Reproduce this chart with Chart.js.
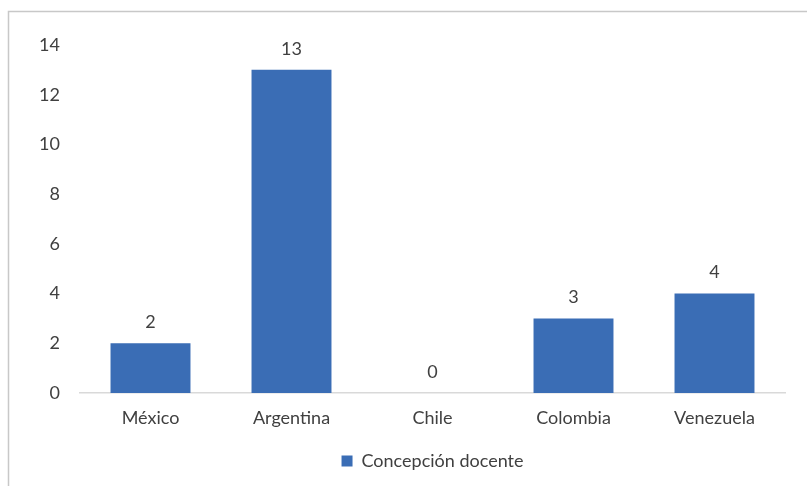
<!DOCTYPE html>
<html lang="es">
<head>
    <meta charset="UTF-8">
    <title>Concepción docente</title>
    <script src="https://cdn.jsdelivr.net/npm/chart.js"></script>
    <style>
        html, body {
            margin: 0;
            padding: 0;
            background: #ffffff;
        }
        .chart-container {
            position: relative;
            width: 807px;
            height: 486px;
        }
    </style>
</head>
<body>
    <div class="chart-container">
        <canvas id="chart"></canvas>
    </div>

    <script>
        const countries = ['México', 'Argentina', 'Chile', 'Colombia', 'Venezuela'];
        const concepcionDocente = [2, 13, 0, 3, 4];
        const yTicks = [0, 2, 4, 6, 8, 10, 12, 14];

        const textColor = '#404040';
        const barColor = '#3A6DB5';
        const fontFamily = 'Lato, "Open Sans", sans-serif';
        const fontSize = 18;

        // thin gray frame on the top and left edges
        const framePlugin = {
            id: 'frame',
            beforeDraw(chart) {
                const ctx = chart.ctx;
                ctx.save();
                ctx.strokeStyle = '#c8c8c8';
                ctx.lineWidth = 1.5;
                ctx.beginPath();
                ctx.moveTo(8.5, chart.height);
                ctx.lineTo(8.5, 11.5);
                ctx.lineTo(chart.width, 11.5);
                ctx.stroke();
                ctx.restore();
            }
        };

        // value labels above each bar
        const valueLabels = {
            id: 'valueLabels',
            afterDatasetsDraw(chart) {
                const ctx = chart.ctx;
                ctx.save();
                ctx.font = fontSize + 'px ' + fontFamily;
                ctx.fillStyle = textColor;
                ctx.textAlign = 'center';
                ctx.textBaseline = 'bottom';
                chart.getDatasetMeta(0).data.forEach((bar, i) => {
                    ctx.fillText(String(concepcionDocente[i]), bar.x, bar.y - 12);
                });
                ctx.restore();
            }
        };

        new Chart(document.getElementById('chart'), {
            type: 'bar',
            data: {
                labels: countries,
                datasets: [{
                    label: 'Concepción docente',
                    data: concepcionDocente,
                    backgroundColor: barColor,
                    borderWidth: 0,
                    barPercentage: 1,
                    categoryPercentage: 0.567
                }]
            },
            options: {
                responsive: true,
                maintainAspectRatio: false,
                animation: false,
                layout: {
                    padding: { left: 8, right: 22, top: 45, bottom: 6 }
                },
                plugins: {
                    legend: {
                        position: 'bottom',
                        fullSize: false,
                        labels: {
                            color: textColor,
                            font: { family: fontFamily, size: fontSize },
                            boxWidth: 11,
                            boxHeight: 11,
                            padding: 9
                        }
                    },
                    tooltip: { enabled: false }
                },
                scales: {
                    x: {
                        grid: { display: false },
                        border: { display: true, color: '#d9d9d9', width: 1.5 },
                        ticks: {
                            color: textColor,
                            font: { family: fontFamily, size: fontSize },
                            padding: 6
                        },
                        afterFit(scale) {
                            scale.height = 50;
                        }
                    },
                    y: {
                        min: 0,
                        max: 14,
                        afterBuildTicks(scale) {
                            scale.ticks = yTicks.map(v => ({ value: v }));
                        },
                        grid: { display: false },
                        border: { display: false },
                        ticks: {
                            color: textColor,
                            font: { family: fontFamily, size: fontSize },
                            padding: 12
                        },
                        afterFit(scale) {
                            scale.width = 72;
                        }
                    }
                }
            },
            plugins: [framePlugin, valueLabels]
        });
    </script>
</body>
</html>
